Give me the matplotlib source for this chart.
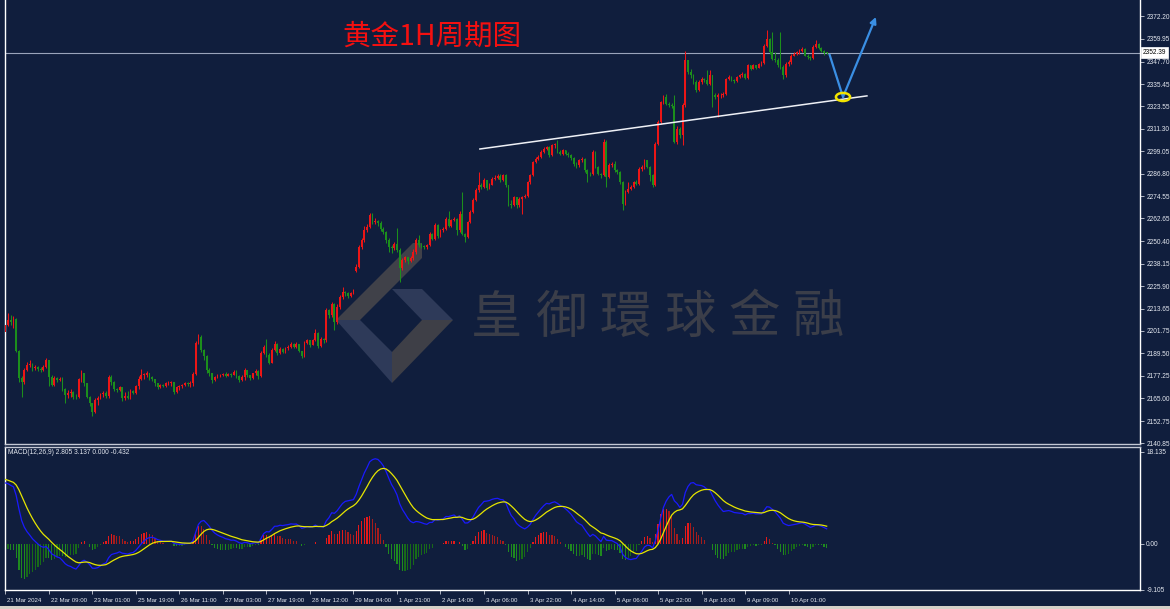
import numpy as np
import matplotlib
matplotlib.use("Agg")
import matplotlib.pyplot as plt
from matplotlib.patches import Polygon, Ellipse, Rectangle
from matplotlib.transforms import Affine2D, ScaledTranslation, blended_transform_factory

# ---- data (XAUUSD 1H) ----
first_open = 2201.0
gap_opens = {129: 2234.0}

closes = [
    2205.0, 2207.5, 2206.5, 2208.0, 2191.0, 2176.0, 2174.0, 2180.4, 2183.0, 2183.7, 2181.3, 2182.0, 2181.0, 2180.5, 2182.0, 2185.8,
    2176.8, 2172.3, 2175.9, 2175.0, 2175.6, 2170.0, 2167.0, 2168.0, 2168.7, 2166.0, 2165.7, 2175.3, 2178.6, 2173.2, 2166.0, 2162.3,
    2157.8, 2164.0, 2165.0, 2167.4, 2168.2, 2166.5, 2176.8, 2174.0, 2170.0, 2169.5, 2171.0, 2165.0, 2166.5, 2165.5, 2169.0, 2168.0,
    2172.0, 2175.5, 2177.7, 2178.0, 2178.7, 2176.5, 2175.5, 2173.2, 2171.2, 2172.5, 2172.0, 2173.2, 2173.5, 2174.0, 2168.5, 2171.0,
    2171.5, 2172.3, 2173.2, 2173.0, 2173.2, 2178.5, 2195.2, 2198.5, 2191.5, 2188.0, 2180.4, 2178.6, 2175.2, 2176.5, 2177.5, 2178.0,
    2178.5, 2177.0, 2178.5, 2177.5, 2179.5, 2177.0, 2175.0, 2176.7, 2180.4, 2177.5, 2176.0, 2178.6, 2180.0, 2177.0, 2189.5, 2193.0,
    2188.5, 2184.5, 2191.5, 2194.8, 2189.5, 2192.0, 2190.0, 2192.5, 2193.0, 2194.5, 2193.0, 2194.5, 2190.5, 2188.0, 2195.0, 2196.6,
    2194.0, 2196.5, 2200.3, 2193.5, 2197.5, 2196.5, 2212.9, 2210.0, 2216.5, 2206.5, 2214.7, 2220.0, 2222.5, 2222.0, 2220.5, 2222.0,
    2223.7, 2236.5, 2247.2, 2250.8, 2256.2, 2258.0, 2264.4, 2260.5, 2261.0, 2260.0, 2257.0, 2255.5, 2250.8, 2247.2, 2246.5, 2249.0,
    2245.5, 2235.5, 2239.9, 2241.5, 2239.5, 2241.0, 2244.5, 2250.8, 2248.1, 2247.5, 2247.0, 2248.0, 2254.4, 2251.7, 2259.0, 2253.0,
    2256.2, 2257.1, 2262.6, 2258.5, 2261.7, 2262.5, 2256.2, 2265.3, 2254.4, 2252.6, 2260.7, 2266.2, 2272.5, 2277.9, 2280.6, 2279.7,
    2283.3, 2279.0, 2281.0, 2284.2, 2284.8, 2285.5, 2283.3, 2286.0, 2280.6, 2270.7, 2270.0, 2274.3, 2269.8, 2273.4, 2274.3, 2275.0,
    2282.4, 2286.0, 2293.2, 2295.1, 2296.0, 2298.7, 2300.5, 2301.4, 2296.9, 2302.3, 2302.8, 2298.7, 2297.8, 2299.6, 2297.8, 2296.9,
    2295.5, 2292.3, 2291.4, 2294.2, 2295.1, 2288.7, 2286.9, 2286.5, 2298.7, 2290.5, 2286.9, 2286.0, 2304.1, 2285.1, 2291.4, 2292.0,
    2288.7, 2287.8, 2282.4, 2270.7, 2277.0, 2278.8, 2279.7, 2282.4, 2281.5, 2289.6, 2290.5, 2294.1, 2290.5, 2286.0, 2280.6, 2303.2,
    2314.9, 2325.7, 2328.5, 2324.8, 2323.9, 2323.5, 2304.1, 2311.3, 2307.7, 2323.9, 2348.3, 2342.0, 2340.2, 2336.6, 2332.1, 2336.6,
    2338.4, 2337.5, 2335.7, 2340.2, 2329.4, 2328.5, 2329.4, 2329.8, 2330.3, 2338.4, 2339.3, 2337.5, 2337.0, 2339.3, 2340.2, 2341.1,
    2338.6, 2345.6, 2343.8, 2345.6, 2344.2, 2346.5, 2347.0, 2356.4, 2360.1, 2352.8, 2349.2, 2348.5, 2346.0, 2344.7, 2340.2, 2346.5,
    2347.4, 2351.0, 2351.9, 2352.8, 2353.7, 2354.6, 2351.0, 2350.0, 2349.5, 2355.5, 2357.4, 2355.0, 2353.7, 2352.4, 2352.39,
]

highs = [
    2207.0, 2211.6, 2210.0, 2209.5, 2208.5, 2191.5, 2177.0, 2181.5, 2185.0, 2186.0, 2184.0, 2183.0, 2182.5, 2182.0, 2183.0, 2187.0,
    2186.0, 2177.5, 2177.0, 2176.5, 2176.5, 2176.5, 2170.5, 2169.5, 2170.0, 2169.0, 2167.5, 2176.0, 2180.5, 2179.0, 2173.5, 2166.5,
    2162.5, 2165.0, 2166.5, 2168.0, 2169.0, 2169.0, 2178.0, 2177.5, 2174.5, 2170.5, 2171.5, 2171.0, 2168.5, 2169.0, 2170.0, 2169.5,
    2172.5, 2177.0, 2181.0, 2179.0, 2180.0, 2178.5, 2177.0, 2175.5, 2173.5, 2173.0, 2173.0, 2174.0, 2174.5, 2174.5, 2174.0, 2172.0,
    2172.5, 2173.0, 2174.0, 2174.0, 2174.5, 2179.5, 2196.0, 2200.0, 2199.5, 2192.0, 2188.5, 2181.5, 2179.0, 2177.0, 2178.5, 2178.5,
    2179.0, 2179.5, 2179.0, 2179.0, 2180.5, 2180.5, 2177.5, 2177.5, 2181.5, 2180.5, 2178.0, 2179.0, 2181.0, 2180.5, 2190.5, 2194.0,
    2197.5, 2189.5, 2192.5, 2196.0, 2195.0, 2193.0, 2192.5, 2193.0, 2194.0, 2195.5, 2195.0, 2195.5, 2194.5, 2191.0, 2196.0, 2197.5,
    2196.5, 2197.5, 2202.5, 2201.0, 2198.5, 2198.0, 2214.0, 2213.5, 2217.5, 2217.0, 2216.0, 2221.0, 2225.5, 2223.5, 2222.5, 2223.0,
    2224.5, 2238.0, 2248.5, 2252.0, 2258.5, 2259.5, 2265.5, 2265.7, 2263.0, 2262.0, 2261.0, 2258.0, 2256.0, 2252.0, 2248.5, 2250.0,
    2257.5, 2246.5, 2241.0, 2242.5, 2241.5, 2242.0, 2246.0, 2252.0, 2253.5, 2249.5, 2248.5, 2249.0, 2255.5, 2254.5, 2260.0, 2259.5,
    2257.0, 2258.0, 2263.5, 2266.7, 2262.5, 2263.5, 2263.0, 2266.5, 2277.0, 2255.0, 2261.5, 2267.0, 2273.5, 2279.0, 2287.8, 2282.0,
    2284.5, 2283.5, 2282.0, 2285.0, 2286.0, 2286.5, 2286.5, 2287.0, 2286.5, 2281.0, 2272.5, 2275.0, 2274.5, 2274.0, 2275.0, 2276.0,
    2283.0, 2287.0, 2294.0, 2296.0, 2297.0, 2299.5, 2301.5, 2302.0, 2302.0, 2303.0, 2303.5, 2305.0, 2299.5, 2300.5, 2300.0, 2298.5,
    2297.5, 2296.0, 2293.0, 2295.0, 2296.0, 2295.5, 2289.5, 2288.0, 2299.6, 2299.0, 2291.0, 2287.5, 2305.5, 2305.0, 2292.5, 2293.0,
    2294.0, 2289.5, 2288.5, 2283.0, 2278.0, 2282.4, 2281.0, 2283.0, 2283.5, 2290.5, 2291.5, 2295.0, 2294.5, 2291.0, 2287.0, 2304.0,
    2316.0, 2326.5, 2329.4, 2330.0, 2326.0, 2325.5, 2329.4, 2312.5, 2312.0, 2325.0, 2353.7, 2348.5, 2343.5, 2341.0, 2337.5, 2337.5,
    2339.5, 2339.0, 2342.9, 2342.9, 2340.5, 2330.5, 2330.5, 2330.5, 2331.0, 2339.0, 2340.5, 2340.0, 2338.5, 2340.0, 2341.0, 2342.0,
    2341.5, 2346.5, 2346.0, 2346.5, 2346.0, 2347.0, 2348.0, 2357.5, 2364.6, 2360.5, 2363.7, 2352.8, 2349.5, 2363.7, 2346.0, 2347.5,
    2348.5, 2352.0, 2353.0, 2353.5, 2354.5, 2355.5, 2355.0, 2352.0, 2351.0, 2356.5, 2359.2, 2358.0, 2355.5, 2354.0, 2353.0,
]

lows = [
    2199.0, 2204.5, 2205.0, 2203.0, 2190.0, 2174.0, 2166.0, 2173.0, 2180.0, 2182.0, 2180.0, 2180.5, 2180.0, 2179.5, 2180.0, 2181.5,
    2172.0, 2171.5, 2171.8, 2174.0, 2174.5, 2169.0, 2162.5, 2165.5, 2166.0, 2164.5, 2164.5, 2165.0, 2174.0, 2172.0, 2165.0, 2161.0,
    2155.5, 2157.0, 2161.5, 2164.5, 2166.0, 2165.0, 2165.5, 2172.5, 2169.0, 2168.5, 2169.0, 2163.5, 2164.0, 2164.5, 2164.5, 2167.5,
    2167.5, 2170.0, 2175.0, 2175.5, 2176.5, 2175.0, 2174.5, 2172.0, 2170.0, 2170.5, 2171.0, 2171.0, 2172.5, 2171.5, 2167.5, 2168.0,
    2169.5, 2170.5, 2171.5, 2171.5, 2171.0, 2172.0, 2178.0, 2194.5, 2190.0, 2186.0, 2179.0, 2177.0, 2173.5, 2174.5, 2176.0, 2176.5,
    2177.0, 2176.5, 2177.0, 2176.5, 2177.5, 2176.0, 2174.0, 2174.5, 2175.0, 2176.5, 2175.0, 2175.5, 2178.0, 2175.5, 2176.5, 2189.0,
    2187.5, 2183.5, 2184.0, 2191.0, 2188.5, 2189.0, 2189.5, 2189.5, 2191.5, 2192.5, 2192.5, 2192.5, 2190.0, 2187.0, 2187.5, 2194.5,
    2193.0, 2194.0, 2196.0, 2192.5, 2193.0, 2195.0, 2195.5, 2208.5, 2209.0, 2202.0, 2205.5, 2213.5, 2219.0, 2220.5, 2219.5, 2220.0,
    2221.5, 2233.5, 2236.0, 2246.0, 2250.0, 2255.5, 2257.5, 2259.5, 2259.5, 2258.5, 2256.0, 2254.0, 2249.5, 2244.5, 2244.0, 2245.5,
    2244.5, 2228.0, 2234.5, 2239.0, 2238.0, 2239.0, 2240.0, 2243.5, 2247.0, 2246.5, 2246.0, 2246.0, 2247.5, 2251.0, 2251.0, 2252.0,
    2252.5, 2255.5, 2256.5, 2258.0, 2258.0, 2261.0, 2253.5, 2255.5, 2253.5, 2250.0, 2252.0, 2260.0, 2265.5, 2272.0, 2277.0, 2278.5,
    2279.0, 2278.0, 2278.5, 2280.5, 2283.5, 2284.0, 2282.5, 2283.0, 2279.5, 2269.5, 2268.5, 2269.5, 2268.5, 2269.0, 2265.3, 2273.5,
    2274.5, 2281.5, 2285.5, 2292.5, 2294.5, 2295.5, 2298.0, 2300.0, 2296.0, 2296.5, 2301.0, 2298.0, 2297.0, 2297.0, 2297.0, 2296.0,
    2294.5, 2291.0, 2290.0, 2290.5, 2293.5, 2288.0, 2282.4, 2285.5, 2286.0, 2290.0, 2286.0, 2284.5, 2285.5, 2279.7, 2284.5, 2290.5,
    2288.0, 2287.0, 2281.5, 2267.1, 2270.0, 2276.5, 2278.0, 2279.0, 2280.5, 2281.0, 2288.5, 2289.5, 2290.0, 2283.0, 2279.5, 2280.0,
    2302.5, 2314.0, 2324.5, 2324.0, 2323.0, 2322.5, 2303.5, 2303.2, 2306.5, 2302.3, 2323.0, 2341.0, 2339.0, 2335.5, 2331.0, 2331.5,
    2335.5, 2336.5, 2335.0, 2335.0, 2323.0, 2327.5, 2317.6, 2328.0, 2328.5, 2329.5, 2337.5, 2337.0, 2336.0, 2336.5, 2339.0, 2339.5,
    2338.0, 2338.0, 2343.0, 2343.5, 2343.5, 2344.0, 2345.5, 2346.5, 2355.5, 2352.0, 2348.5, 2347.5, 2344.5, 2343.8, 2338.4, 2339.5,
    2345.5, 2346.5, 2350.5, 2351.5, 2352.0, 2353.0, 2350.5, 2349.0, 2348.5, 2349.0, 2355.0, 2354.5, 2353.0, 2351.5, 2351.8,
]

date_labels = ["21 Mar 2024", "22 Mar 09:00", "23 Mar 01:00", "25 Mar 19:00", "26 Mar 11:00",
               "27 Mar 03:00", "27 Mar 19:00", "28 Mar 12:00", "29 Mar 04:00", "1 Apr 21:00",
               "2 Apr 14:00", "3 Apr 06:00", "3 Apr 22:00", "4 Apr 14:00", "5 Apr 06:00",
               "5 Apr 22:00", "8 Apr 16:00", "9 Apr 09:00", "10 Apr 01:00"]
bars_per_label = 16

price_ticks = [2372.20, 2359.95, 2347.70, 2335.45, 2323.55, 2311.30, 2299.05, 2286.80, 2274.55,
               2262.65, 2250.40, 2238.15, 2225.90, 2213.65, 2201.75, 2189.50, 2177.25, 2165.00,
               2152.75, 2140.85]
last_price = 2352.39
macd_ticks = [18.135, 0.0, -9.105]
macd_labels = ["18.135", "0.00", "-9.105"]
macd_text = "MACD(12,26,9) 2.805 3.137 0.000 -0.432"

# EMA state carried in from before the first visible bar
ema_fast_seed, ema_slow_seed, signal_seed = 2197.0, 2184.7, 12.9

# drawn objects (bar index, price)
trend_start, trend_end = (174.5, 2300.3), (316.8, 2329.1)
arrow_pts = [(303.1, 2351.3), (308.0, 2328.5), (320.1, 2371.9)]
ellipse_center = (308.0, 2328.5)

title = "黄金1H周期图"
watermark = "皇御環球金融"

# ---- derived ----
n = len(closes)
x = np.arange(n)
c = np.array(closes)
o = np.concatenate([[first_open], c[:-1]])
for k, v in gap_opens.items():
    o[k] = v
h = np.maximum.reduce([np.array(highs), o, c])
l = np.minimum.reduce([np.array(lows), o, c])


def ema(vals, span, seed):
    a = 2.0 / (span + 1)
    out, prev = [], seed
    for v in vals:
        prev = prev + a * (v - prev)
        out.append(prev)
    return np.array(out)


macd = ema(c, 12, ema_fast_seed) - ema(c, 26, ema_slow_seed)
signal = ema(macd, 9, signal_seed)
hist = 1.4 * (macd - signal)

# ---- figure ----
W, H = 1170, 609
BG = "#101e3d"
UP, DN = "#ec1616", "#1c8f1c"
TXT = "#e4e8f0"
FS_Y = 4.7
FS_X = 4.4

fig = plt.figure(figsize=(W / 100, H / 100), dpi=100, facecolor=BG)
px = Affine2D().scale(1 / W, -1 / H).translate(0, 1) + fig.transFigure

ax = fig.add_axes([5 / W, 1 - 444 / H, 1135 / W, 444 / H], facecolor=BG)
ax2 = fig.add_axes([5 / W, 1 - 590 / H, 1135 / W, 143 / H], facecolor=BG)

xlim = (-0.11, 417.2)
ax.set_xlim(*xlim)
ax.set_ylim(2140.31, 2381.1)

# watermark logo + text
logo_a = [(336, 320), (413, 243), (422, 243), (422, 258), (360, 320)]
logo_b = [(336, 320), (360, 320), (392, 352), (392, 383)]
logo_c = [(392, 352), (422, 320), (453, 320), (392, 383)]
logo_d = [(392, 289), (422, 289), (453, 320), (422, 320)]
for pts, col in [(logo_a, "#404149"), (logo_b, "#2e3a59"), (logo_c, "#3e3f47"), (logo_d, "#2e3a59")]:
    ax.add_patch(Polygon(pts, closed=True, transform=px, facecolor=col, edgecolor="none", zorder=0.5))
for k, ch in enumerate(watermark):
    ax.text(497 + 64.2 * k, 318, ch, transform=px, fontsize=37, color="#3b3e49",
            family=["Noto Sans CJK TC", "DejaVu Sans"], ha="center", va="center", zorder=0.6)

# candles
cols = np.where(c >= o, UP, DN)
ax.vlines(x, l, h, colors=cols, lw=0.75, zorder=2)
body = np.maximum(np.abs(c - o), 0.35)
ax.bar(x, body, bottom=np.minimum(o, c), width=0.66, color=cols, linewidth=0, zorder=3)

# last price line + label
ax.axhline(last_price, color="#9aa4bb", lw=0.8, zorder=1.5)
bt = blended_transform_factory(ax.transAxes, ax.transData)
ax.text(1.0 + 3 / 1135, last_price, f"{last_price:.2f}", transform=bt, fontsize=FS_Y,
        family="Liberation Sans", color="black", va="center", ha="left", zorder=5, clip_on=False,
        bbox=dict(boxstyle="square,pad=0.3", fc="white", ec="white", lw=0.5))

# trendline, arrow, ellipse
ax.plot([trend_start[0], trend_end[0]], [trend_start[1], trend_end[1]], color="#eef0f6", lw=1.1, zorder=4)
ax.plot([arrow_pts[0][0], arrow_pts[1][0]], [arrow_pts[0][1], arrow_pts[1][1]], color="#3a8fe4", lw=1.6, zorder=4)
ax.annotate("", xy=arrow_pts[2], xytext=arrow_pts[1],
            arrowprops=dict(arrowstyle="-|>", color="#3a8fe4", lw=1.6, mutation_scale=9, shrinkA=0, shrinkB=0),
            zorder=4)
ax.add_patch(Ellipse(ellipse_center, width=5.2, height=4.4, fill=False, edgecolor="#f2e400", lw=1.8, zorder=5))

# price axis
ax.yaxis.tick_right()
ax.set_yticks(price_ticks)
ax.set_yticklabels([f"{v:.2f}" for v in price_ticks])
ax.tick_params(axis="y", length=3, width=0.6, color="#c8ccd8", labelsize=FS_Y, labelcolor=TXT, pad=1.5)
ax.set_xticks([])
for lbl in ax.get_yticklabels():
    lbl.set_family("Liberation Sans")

for name, sp in ax.spines.items():
    sp.set_color("white")
    sp.set_linewidth(1.0)
ax.spines["top"].set_visible(False)
ax.spines["bottom"].set_color("#c4c8d4")

# MACD panel
hcols = []
for k in range(n):
    prev = hist[k - 1] if k else hist[k]
    if hist[k] >= 0:
        hcols.append("#e41a1a" if hist[k] >= prev else "#a61c1c")
    else:
        hcols.append("#1f8a1f" if hist[k] <= prev else "#186a18")
ax2.bar(x, hist, width=0.45, color=hcols, linewidth=0, zorder=2)
ax2.plot(x, macd, color="#1a1aff", lw=0.9, zorder=3)
ax2.plot(x, signal, color="#e6e600", lw=0.9, zorder=4)
ax2.set_xlim(*xlim)
ax2.set_ylim(-9.105, 19.12)

ax2.yaxis.tick_right()
ax2.set_yticks(macd_ticks)
ax2.set_yticklabels(macd_labels)
ax2.tick_params(axis="y", length=3, width=0.6, color="#c8ccd8", labelsize=FS_Y, labelcolor=TXT, pad=1.5)

ax2.set_xticks(np.arange(len(date_labels)) * bars_per_label)
ax2.set_xticklabels(date_labels, ha="left")
ax2.tick_params(axis="x", length=3, width=0.6, color="#c8ccd8", labelsize=FS_X, labelcolor=TXT, pad=2.5)
shift = ScaledTranslation(2 / 100, 0, fig.dpi_scale_trans)
for lbl in ax2.get_xticklabels() + ax2.get_yticklabels():
    lbl.set_family("Liberation Sans")
for lbl in ax2.get_xticklabels():
    lbl.set_transform(lbl.get_transform() + shift)

for name, sp in ax2.spines.items():
    sp.set_color("white")
    sp.set_linewidth(1.0)
ax2.spines["top"].set_color("#c4c8d4")

fig.text(8 / W, 1 - 452 / H, macd_text, fontsize=4.8, color=TXT, family="Liberation Sans", va="center")

# title
fig.text(342 / W, 1 - 37 / H, title, fontsize=20.5, color="#f41010",
         family=["Noto Sans CJK SC", "DejaVu Sans"], va="center", ha="left")

# window frame strip at the bottom
fig.patches.append(Rectangle((0, 0), 1, 3 / H, transform=fig.transFigure, facecolor="#d4d0c8", edgecolor="none"))

fig.savefig("out.png", dpi=100, facecolor=BG)
